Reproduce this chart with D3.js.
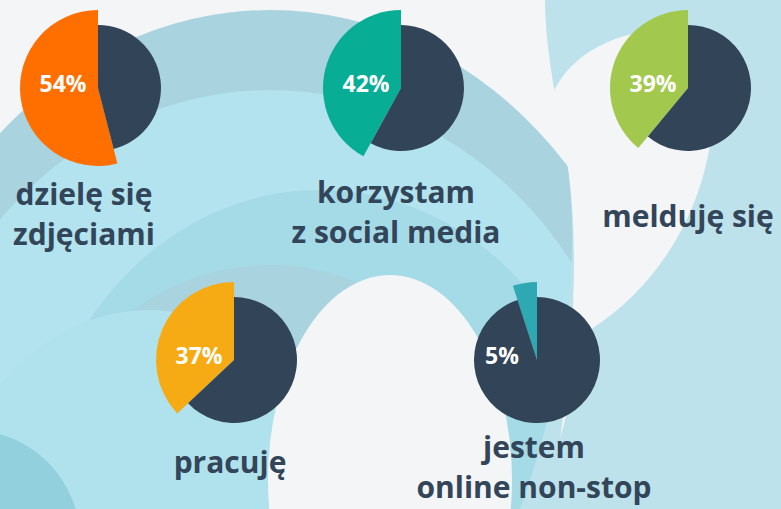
<!DOCTYPE html>
<html>
<head>
<meta charset="utf-8">
<script src="https://cdn.jsdelivr.net/npm/d3@7"></script>
<style>
  html, body { margin: 0; padding: 0; background: #f4f5f6; }
  svg { display: block; }
  text { font-family: "Open Sans", sans-serif; font-weight: 700; }
</style>
</head>
<body>
<div id="chart"></div>
<script>
// chart data
var labels = [
    ["dzielę się", "zdjęciami"],
    ["korzystam", "z social media"],
    ["melduję się"],
    ["pracuję"],
    ["jestem", "online non-stop"]
];
var values = [54, 42, 39, 37, 5];
var colors = ["#ff6f00", "#07ad95", "#a2c94d", "#f6ab14", "#2ea8b2"];

function init() {
    var w = 781;
    var h = 509;
    var dark = "#324457";

    // where each pie sits and where its caption goes
    var layout = [
        { cx: 98, cy: 88, tx: 84, ty: 205 },
        { cx: 401, cy: 88, tx: 396, ty: 203 },
        { cx: 688, cy: 88, tx: 688, ty: 227 },
        { cx: 234, cy: 360, tx: 230, ty: 473 },
        { cx: 537, cy: 360, tx: 534, ty: 458 }
    ];
    var lineGap = 40;

    var svg = d3.select("#chart")
        .append("svg")
        .attr("width", w)
        .attr("height", h);

    // background swirl
    var bg = svg.append("g");
    bg.append("rect").attr("width", w).attr("height", h).attr("fill", "#f4f5f6");
    bg.append("ellipse").attr("cx", 270).attr("cy", 480).attr("rx", 400).attr("ry", 470).attr("fill", "#a9d3df");
    bg.append("ellipse").attr("cx", 270).attr("cy", 500).attr("rx", 370).attr("ry", 410).attr("fill", "#b2e3ee");
    bg.append("ellipse").attr("cx", 320).attr("cy", 520).attr("rx", 290).attr("ry", 330).attr("fill", "#a5dae7");
    bg.append("ellipse").attr("cx", 270).attr("cy", 520).attr("rx", 240).attr("ry", 255).attr("fill", "#a8d3df");
    bg.append("ellipse").attr("cx", 150).attr("cy", 560).attr("rx", 210).attr("ry", 250).attr("fill", "#b0e2ed");
    bg.append("ellipse").attr("cx", -30).attr("cy", 540).attr("rx", 110).attr("ry", 110).attr("fill", "#93d0de");
    bg.append("ellipse").attr("cx", 390).attr("cy", 480).attr("rx", 122).attr("ry", 205).attr("fill", "#f4f5f6");
    bg.append("path")
        .attr("d", "M545,0 L781,0 L781,509 L520,509 C560,400 590,250 560,120 C550,70 545,30 545,0 Z")
        .attr("fill", "#bde2eb");
    bg.append("path")
        .attr("d", "M552,95 C575,40 650,20 700,35 C735,120 700,260 590,330 C575,380 565,420 560,440 C575,330 585,200 552,95 Z")
        .attr("fill", "#f4f5f6");

    var pie = d3.pie()
        .sort(null)
        .startAngle(0)
        .endAngle(-2 * Math.PI);

    var radius = d3.scaleOrdinal()
        .domain(["part", "rest"])
        .range([78, 63]);

    var arc = d3.arc()
        .innerRadius(0)
        .outerRadius(function (d) { return radius(d.data.key); });

    values.forEach(function (v, i) {
        var pos = layout[i];
        var g = svg.append("g")
            .attr("transform", "translate(" + pos.cx + "," + pos.cy + ")");

        var slices = pie.value(function (d) { return d.value; })([
            { key: "part", value: v },
            { key: "rest", value: 100 - v }
        ]);

        g.selectAll("path")
            .data(slices)
            .enter()
            .append("path")
            .attr("d", arc)
            .attr("fill", function (d) { return d.data.key === "part" ? colors[i] : dark; });

        // percentage label
        g.append("text")
            .attr("x", -35)
            .attr("y", 4)
            .attr("text-anchor", "middle")
            .attr("fill", "#ffffff")
            .style("font-size", "23px")
            .text(v + "%");

        // caption
        var cap = svg.append("text")
            .attr("text-anchor", "middle")
            .attr("fill", "#334559")
            .style("font-size", "30px");

        labels[i].forEach(function (line, j) {
            cap.append("tspan")
                .attr("x", pos.tx)
                .attr("y", pos.ty + j * lineGap)
                .text(line);
        });
    });
}

window.onload = init;
</script>
</body>
</html>
